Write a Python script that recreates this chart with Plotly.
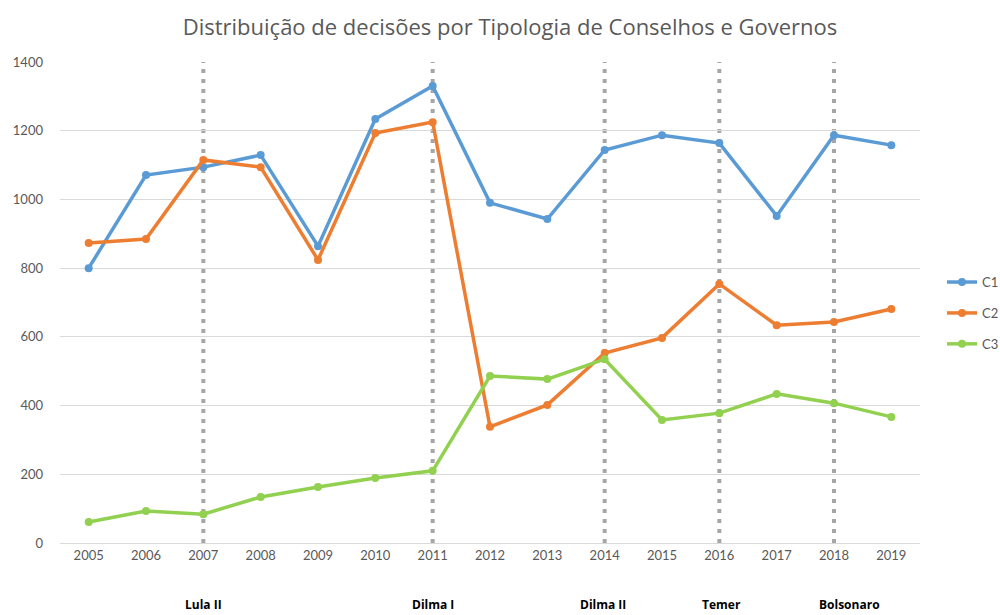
import plotly.graph_objects as go

years = [2005, 2006, 2007, 2008, 2009, 2010, 2011, 2012, 2013, 2014, 2015, 2016, 2017, 2018, 2019]
c1 = [800, 1071, 1094, 1129, 864, 1234, 1330, 990, 943, 1144, 1187, 1164, 952, 1187, 1158]
c2 = [873, 885, 1115, 1094, 824, 1193, 1225, 338, 402, 553, 597, 754, 634, 643, 681]
c3 = [61, 93, 84, 134, 163, 189, 210, 486, 477, 535, 358, 378, 434, 407, 367]
series_names = ["C1", "C2", "C3"]
colors = ["#5B9BD5", "#ED7D31", "#92D050"]

gov_years = [2007, 2011, 2014, 2016, 2018]
gov_labels = ["Lula II", "Dilma I", "Dilma II", "Temer", "Bolsonaro"]
gov_label_shift = [0, 0, -2, 2, 15]

tick_font = "Lato, 'Open Sans', sans-serif"
title_font = "'Open Sans', sans-serif"

fig = go.Figure()
for name, vals, col in zip(series_names, [c1, c2, c3], colors):
    fig.add_trace(go.Scatter(
        x=years, y=vals, name=name, mode="lines+markers", legendgroup=name,
        line=dict(color=col, width=3.5),
        marker=dict(color=col, size=8),
    ))

for gy, gl, sh in zip(gov_years, gov_labels, gov_label_shift):
    fig.add_shape(type="line", x0=gy, x1=gy, y0=0, y1=1400, xref="x", yref="y",
                  line=dict(color="#A6A6A6", width=4, dash="4px,6px"), layer="below")
    fig.add_annotation(x=gy, y=-0.127, xref="x", yref="paper", text="<b>" + gl + "</b>",
                       showarrow=False, xshift=sh,
                       font=dict(family=title_font, size=12, color="#000000"),
                       yanchor="middle")

fig.update_layout(
    width=1000, height=615,
    margin=dict(l=60, r=80, t=62, b=72, autoexpand=False),
    paper_bgcolor="white", plot_bgcolor="white",
    title=dict(text="Distribuição de decisões por Tipologia de Conselhos e Governos",
               x=0.51, xanchor="center", y=0.955, yanchor="middle",
               font=dict(family=title_font, size=22, color="#595959")),
    font=dict(family=tick_font, color="#595959", size=13),
    showlegend=True,
    legend=dict(x=1.0256, y=0.478, xanchor="left", yanchor="middle",
                font=dict(size=13, color="#595959"), tracegroupgap=11,
                itemwidth=30, bgcolor="rgba(0,0,0,0)"),
    xaxis=dict(range=[2004.5, 2019.5], tickmode="array", tickvals=years,
               ticktext=[str(y) for y in years], showgrid=False, zeroline=False,
               showline=True, linecolor="#D9D9D9", linewidth=1, ticks="",
               tickfont=dict(size=13, color="#595959")),
    yaxis=dict(range=[0, 1400], tickmode="linear", tick0=0, dtick=200,
               showgrid=True, gridcolor="#D9D9D9", gridwidth=1, zeroline=False,
               showline=False, ticks="", ticklabelstandoff=16,
               tickfont=dict(size=13, color="#595959")),
)

fig.write_html("out.html")
